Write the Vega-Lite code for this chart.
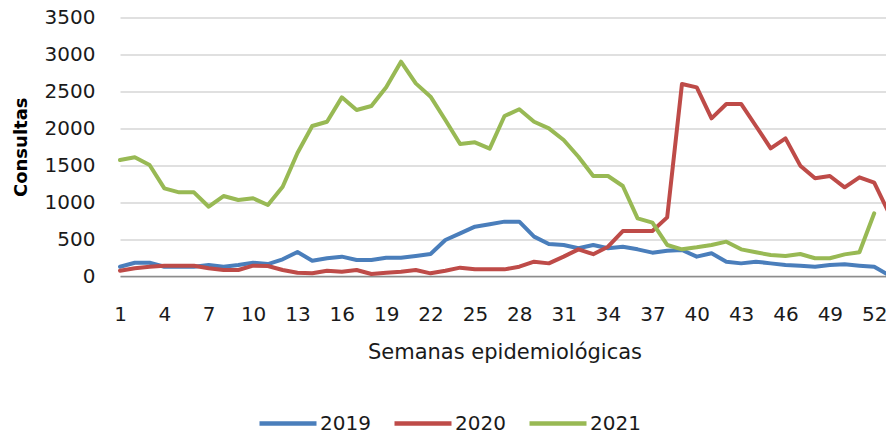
{
  "$schema": "https://vega.github.io/schema/vega-lite/v6.json",
  "autosize": {"type": "none"},
  "width": 769,
  "height": 258.5,
  "padding": {"left": 120, "top": 17.5, "right": 0, "bottom": 162},
  "background": "white",
  "config": {
    "view": {"stroke": null},
    "font": "DejaVu Sans"
  },
  "data": {"values": [
    {"semana":1,"anio":"2019","consultas":126},{"semana":2,"anio":"2019","consultas":180},{"semana":3,"anio":"2019","consultas":180},{"semana":4,"anio":"2019","consultas":126},{"semana":5,"anio":"2019","consultas":126},{"semana":6,"anio":"2019","consultas":126},{"semana":7,"anio":"2019","consultas":149},{"semana":8,"anio":"2019","consultas":126},{"semana":9,"anio":"2019","consultas":149},{"semana":10,"anio":"2019","consultas":180},{"semana":11,"anio":"2019","consultas":162},{"semana":12,"anio":"2019","consultas":226},{"semana":13,"anio":"2019","consultas":325},{"semana":14,"anio":"2019","consultas":207},{"semana":15,"anio":"2019","consultas":240},{"semana":16,"anio":"2019","consultas":262},{"semana":17,"anio":"2019","consultas":217},{"semana":18,"anio":"2019","consultas":217},{"semana":19,"anio":"2019","consultas":248},{"semana":20,"anio":"2019","consultas":248},{"semana":21,"anio":"2019","consultas":271},{"semana":22,"anio":"2019","consultas":298},{"semana":23,"anio":"2019","consultas":487},{"semana":24,"anio":"2019","consultas":578},{"semana":25,"anio":"2019","consultas":668},{"semana":26,"anio":"2019","consultas":700},{"semana":27,"anio":"2019","consultas":736},{"semana":28,"anio":"2019","consultas":736},{"semana":29,"anio":"2019","consultas":533},{"semana":30,"anio":"2019","consultas":433},{"semana":31,"anio":"2019","consultas":420},{"semana":32,"anio":"2019","consultas":375},{"semana":33,"anio":"2019","consultas":420},{"semana":34,"anio":"2019","consultas":375},{"semana":35,"anio":"2019","consultas":397},{"semana":36,"anio":"2019","consultas":361},{"semana":37,"anio":"2019","consultas":316},{"semana":38,"anio":"2019","consultas":343},{"semana":39,"anio":"2019","consultas":352},{"semana":40,"anio":"2019","consultas":262},{"semana":41,"anio":"2019","consultas":307},{"semana":42,"anio":"2019","consultas":194},{"semana":43,"anio":"2019","consultas":171},{"semana":44,"anio":"2019","consultas":194},{"semana":45,"anio":"2019","consultas":171},{"semana":46,"anio":"2019","consultas":149},{"semana":47,"anio":"2019","consultas":140},{"semana":48,"anio":"2019","consultas":126},{"semana":49,"anio":"2019","consultas":149},{"semana":50,"anio":"2019","consultas":158},{"semana":51,"anio":"2019","consultas":140},{"semana":52,"anio":"2019","consultas":126},{"semana":53,"anio":"2019","consultas":10},
    {"semana":1,"anio":"2020","consultas":72},{"semana":2,"anio":"2020","consultas":104},{"semana":3,"anio":"2020","consultas":126},{"semana":4,"anio":"2020","consultas":140},{"semana":5,"anio":"2020","consultas":140},{"semana":6,"anio":"2020","consultas":140},{"semana":7,"anio":"2020","consultas":104},{"semana":8,"anio":"2020","consultas":81},{"semana":9,"anio":"2020","consultas":81},{"semana":10,"anio":"2020","consultas":140},{"semana":11,"anio":"2020","consultas":135},{"semana":12,"anio":"2020","consultas":81},{"semana":13,"anio":"2020","consultas":45},{"semana":14,"anio":"2020","consultas":36},{"semana":15,"anio":"2020","consultas":72},{"semana":16,"anio":"2020","consultas":58},{"semana":17,"anio":"2020","consultas":81},{"semana":18,"anio":"2020","consultas":27},{"semana":19,"anio":"2020","consultas":45},{"semana":20,"anio":"2020","consultas":58},{"semana":21,"anio":"2020","consultas":81},{"semana":22,"anio":"2020","consultas":36},{"semana":23,"anio":"2020","consultas":72},{"semana":24,"anio":"2020","consultas":113},{"semana":25,"anio":"2020","consultas":90},{"semana":26,"anio":"2020","consultas":90},{"semana":27,"anio":"2020","consultas":90},{"semana":28,"anio":"2020","consultas":126},{"semana":29,"anio":"2020","consultas":194},{"semana":30,"anio":"2020","consultas":171},{"semana":31,"anio":"2020","consultas":262},{"semana":32,"anio":"2020","consultas":361},{"semana":33,"anio":"2020","consultas":295},{"semana":34,"anio":"2020","consultas":397},{"semana":35,"anio":"2020","consultas":609},{"semana":36,"anio":"2020","consultas":609},{"semana":37,"anio":"2020","consultas":609},{"semana":38,"anio":"2020","consultas":794},{"semana":39,"anio":"2020","consultas":2600},{"semana":40,"anio":"2020","consultas":2554},{"semana":41,"anio":"2020","consultas":2135},{"semana":42,"anio":"2020","consultas":2329},{"semana":43,"anio":"2020","consultas":2329},{"semana":44,"anio":"2020","consultas":2031},{"semana":45,"anio":"2020","consultas":1729},{"semana":46,"anio":"2020","consultas":1864},{"semana":47,"anio":"2020","consultas":1494},{"semana":48,"anio":"2020","consultas":1323},{"semana":49,"anio":"2020","consultas":1354},{"semana":50,"anio":"2020","consultas":1201},{"semana":51,"anio":"2020","consultas":1336},{"semana":52,"anio":"2020","consultas":1264},{"semana":53,"anio":"2020","consultas":850},
    {"semana":1,"anio":"2021","consultas":1570},{"semana":2,"anio":"2021","consultas":1607},{"semana":3,"anio":"2021","consultas":1503},{"semana":4,"anio":"2021","consultas":1187},{"semana":5,"anio":"2021","consultas":1133},{"semana":6,"anio":"2021","consultas":1133},{"semana":7,"anio":"2021","consultas":938},{"semana":8,"anio":"2021","consultas":1083},{"semana":9,"anio":"2021","consultas":1029},{"semana":10,"anio":"2021","consultas":1052},{"semana":11,"anio":"2021","consultas":961},{"semana":12,"anio":"2021","consultas":1209},{"semana":13,"anio":"2021","consultas":1665},{"semana":14,"anio":"2021","consultas":2031},{"semana":15,"anio":"2021","consultas":2089},{"semana":16,"anio":"2021","consultas":2419},{"semana":17,"anio":"2021","consultas":2247},{"semana":18,"anio":"2021","consultas":2302},{"semana":19,"anio":"2021","consultas":2554},{"semana":20,"anio":"2021","consultas":2902},{"semana":21,"anio":"2021","consultas":2608},{"semana":22,"anio":"2021","consultas":2428},{"semana":23,"anio":"2021","consultas":2112},{"semana":24,"anio":"2021","consultas":1787},{"semana":25,"anio":"2021","consultas":1810},{"semana":26,"anio":"2021","consultas":1724},{"semana":27,"anio":"2021","consultas":2166},{"semana":28,"anio":"2021","consultas":2257},{"semana":29,"anio":"2021","consultas":2089},{"semana":30,"anio":"2021","consultas":1999},{"semana":31,"anio":"2021","consultas":1841},{"semana":32,"anio":"2021","consultas":1615},{"semana":33,"anio":"2021","consultas":1354},{"semana":34,"anio":"2021","consultas":1354},{"semana":35,"anio":"2021","consultas":1219},{"semana":36,"anio":"2021","consultas":781},{"semana":37,"anio":"2021","consultas":722},{"semana":38,"anio":"2021","consultas":420},{"semana":39,"anio":"2021","consultas":361},{"semana":40,"anio":"2021","consultas":388},{"semana":41,"anio":"2021","consultas":420},{"semana":42,"anio":"2021","consultas":465},{"semana":43,"anio":"2021","consultas":361},{"semana":44,"anio":"2021","consultas":321},{"semana":45,"anio":"2021","consultas":284},{"semana":46,"anio":"2021","consultas":271},{"semana":47,"anio":"2021","consultas":298},{"semana":48,"anio":"2021","consultas":240},{"semana":49,"anio":"2021","consultas":240},{"semana":50,"anio":"2021","consultas":293},{"semana":51,"anio":"2021","consultas":321},{"semana":52,"anio":"2021","consultas":849}
  ]},
  "mark": {"type": "line", "strokeWidth": 4, "strokeJoin": "round", "strokeCap": "round", "clip": false},
  "encoding": {
    "x": {
      "field": "semana", "type": "quantitative",
      "scale": {"domain": [1, 53], "nice": false, "zero": false},
      "axis": {
        "values": [1,4,7,10,13,16,19,22,25,28,31,34,37,40,43,46,49,52],
        "format": "d",
        "title": "Semanas epidemiológicas",
        "grid": false,
        "ticks": false,
        "domainColor": "#8c8c8c",
        "domainWidth": 1.5,
        "labelFont": "DejaVu Sans",
        "labelFontSize": 20,
        "labelColor": "#1a1a1a",
        "labelBaseline": "top",
        "labelPadding": 28,
        "labelFlush": false,
        "labelOverlap": false,
        "titleFont": "DejaVu Sans",
        "titleFontSize": 21,
        "titleFontWeight": "normal",
        "titleColor": "#1a1a1a",
        "titleBaseline": "alphabetic",
        "titleY": 82
      }
    },
    "y": {
      "field": "consultas", "type": "quantitative",
      "scale": {"domain": [0, 3500], "nice": false},
      "axis": {
        "values": [0,500,1000,1500,2000,2500,3000,3500],
        "format": "d",
        "title": "Consultas",
        "domain": false,
        "ticks": false,
        "gridColor": "#d6d6d6",
        "gridWidth": 1.3,
        "labelFont": "DejaVu Sans",
        "labelFontSize": 20,
        "labelColor": "#1a1a1a",
        "labelPadding": 25,
        "titleFont": "DejaVu Sans",
        "titleFontSize": 18,
        "titleFontWeight": "bold",
        "titleColor": "#000000",
        "titleBaseline": "middle",
        "titleX": -99
      }
    },
    "color": {
      "field": "anio", "type": "nominal",
      "scale": {"domain": ["2019","2020","2021"], "range": ["#4A7EBB","#BE4B48","#98B954"]},
      "legend": {
        "title": null,
        "orient": "none",
        "direction": "horizontal",
        "legendX": 137,
        "legendY": 375,
        "padding": 0,
        "symbolType": "stroke",
        "symbolSize": 3249,
        "symbolStrokeWidth": 4.5,
        "labelFont": "DejaVu Sans",
        "labelFontSize": 20,
        "labelColor": "#1a1a1a",
        "labelOffset": 1,
        "columnPadding": 14
      }
    }
  }
}
